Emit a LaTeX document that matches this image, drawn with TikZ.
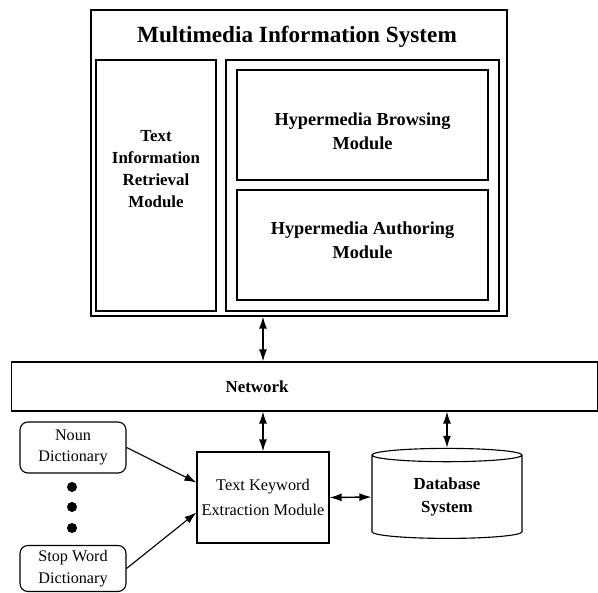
\documentclass[tikz,border=0pt]{standalone}
\usepackage{fontspec}
\setmainfont{Liberation Serif}
\usepackage{tikz}
\usetikzlibrary{positioning,arrows.meta,shapes.geometric}
\tikzset{caja/.style={draw,rectangle,line width=0.8pt,inner sep=0pt,align=center,font=\bfseries\fontsize{12}{15.5}\selectfont}}
\tikzset{dicc/.style={draw,rectangle,rounded corners=0.2cm,line width=0.8pt,inner sep=0pt,align=center,minimum width=2.65cm,font=\fontsize{11.5}{15.5}\selectfont}}
\tikzset{rotulo/.style={align=center,inner sep=0pt,font=\bfseries\fontsize{12}{15.5}\selectfont}}
\tikzset{flecha/.style={line width=1pt,{Latex[length=3mm,width=2mm]}-{Latex[length=3mm,width=2mm]}}}
\tikzset{punto/.style={circle,fill=black,inner sep=0pt,minimum size=0.25cm}}

\begin{document}
\begin{tikzpicture}[x=0.025cm, y=-0.025cm]
            \useasboundingbox (0,0) rectangle (598,592);
            % upper block
            \node[caja, minimum width=10.4cm, minimum height=7.65cm] (mis) at (299,163) {};
            \node[font=\bfseries\fontsize{16.5}{20}\selectfont] (titulo) at (297,37) {Multimedia Information System};
            \node[caja, minimum width=3cm, minimum height=6.275cm] (tirm) at (156,185.5) {};
            \node[rotulo] (tirmtxt) at (156,169) {Text\\Information\\Retrieval\\Module};
            \node[caja, minimum width=6.825cm, minimum height=6.275cm] (hyp) at (362.5,185.5) {};
            \node[caja, minimum width=6.275cm, minimum height=2.75cm] (hbm) at (362.5,125) {};
            \node[rotulo, font=\bfseries\fontsize{13}{17}\selectfont] (hbmtxt) at (362.5,131) {Hypermedia Browsing\\Module};
            \node[caja, minimum width=6.275cm, minimum height=2.75cm] (ham) at (362.5,245) {};
            \node[rotulo, font=\bfseries\fontsize{13}{17}\selectfont] (hamtxt) at (362.5,240) {Hypermedia Authoring\\Module};

            % network and lower block
            \node[caja, minimum width=14.625cm, minimum height=1.225cm] (net) at (304.5,386.5) {};
            \node[rotulo] (nettxt) at (257,386.5) {Network};
            \node[caja, minimum width=3.3cm, minimum height=2.275cm, font=\fontsize{11.6}{17.5}\selectfont] (tkem) at (263,497.5) {Text Keyword\\Extraction Module};
            \node[caja, cylinder, shape border rotate=90, aspect=0.2, minimum width=3.75cm, minimum height=2.25cm, font=\bfseries\fontsize{12}{17}\selectfont] (db) at (447,497) {Database\\System};
            \node[dicc, minimum height=1.275cm] (noun) at (73,447.5) {Noun\\Dictionary};
            \node[dicc, minimum height=1.15cm] (stop) at (73,568.5) {Stop Word\\Dictionary};
            \foreach \y [count=\i] in {487,507,528}
                \node[punto] (d\i) at (72,\y) {};

            \draw[flecha] (tkem.north |- mis.south) to (tkem.north |- net.north);
            \draw[flecha] (tkem.north |- net.south) to (tkem.north);
            \draw[flecha] (db.north |- net.south) to (db.north);
            \draw[flecha] (tkem.east) to (db.west);
            \draw[line width=0.8pt, -{Latex[length=3mm,width=2mm]}] (noun.east) to ([yshift=0.375cm]tkem.west);
            \draw[line width=0.8pt, -{Latex[length=3mm,width=2mm]}] (stop.east) to ([yshift=-0.375cm]tkem.west);
        \end{tikzpicture}
\end{document}
